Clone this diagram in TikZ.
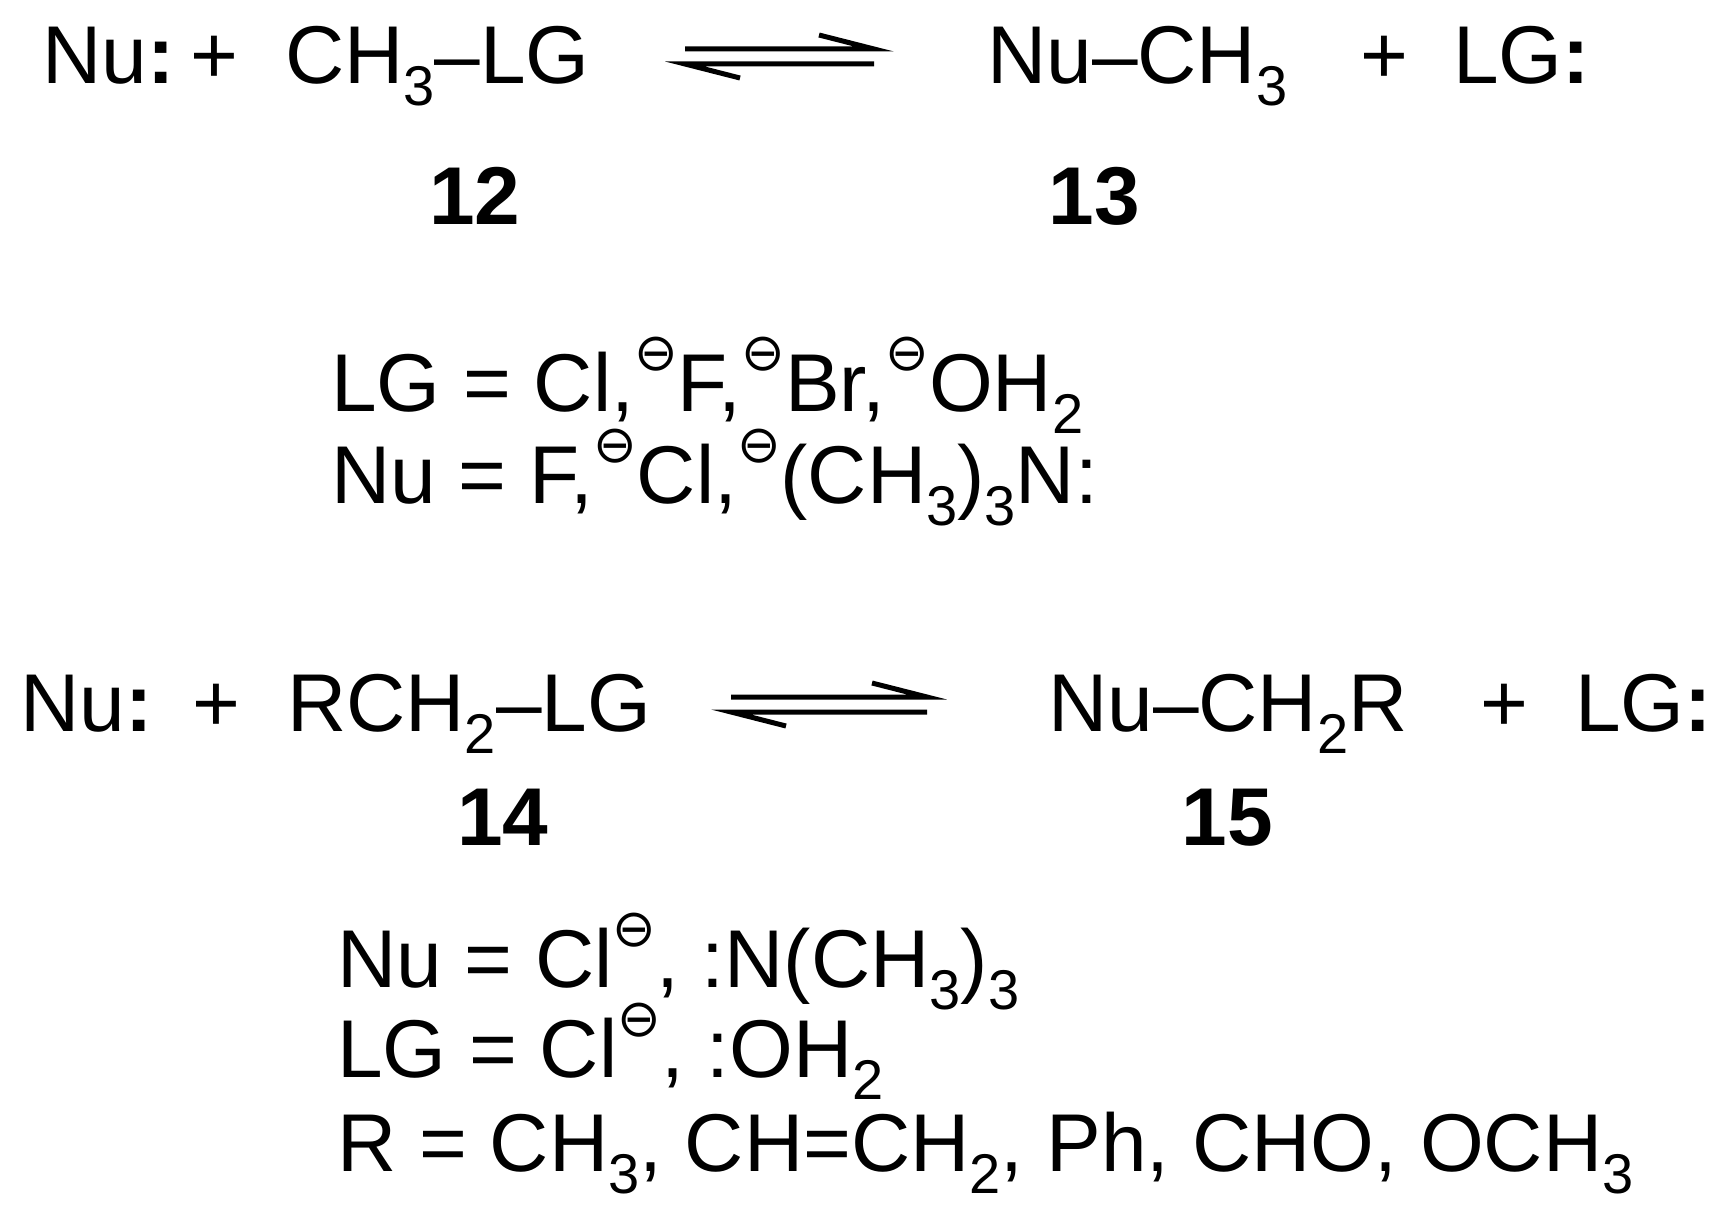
\documentclass[tikz,border=0pt]{standalone}
\usepackage{fontspec}
\setmainfont{Liberation Sans}
\newfontfamily\dv{DejaVu Sans}
\newcommand{\sbs}[1]{\raisebox{-0.28em}{\fontsize{56}{56}\selectfont #1}}
\newcommand{\chg}{\raisebox{0.5em}{\fontsize{52}{52}\selectfont\dv ⊖}}
\begin{document}
\begin{tikzpicture}[x=1pt,y=-1pt,
  t/.style={anchor=base west,inner sep=0pt,font=\fontsize{82}{90}\selectfont},
  lbl/.style={anchor=base,inner sep=0pt,font=\fontsize{82}{90}\selectfont\bfseries},
  ar/.style={line width=5pt}]
\useasboundingbox (0,0) rectangle (1724,1215);
% row 1
\node[t] (nu1) at (42,83) {Nu\textbf{:}};
\node[t] (p1) at (190,83) {+};
\node[t] (r1) at (285,83) {CH\sbs{3}–LG};
\node[t] (pr1) at (987,83) {Nu–CH\sbs{3}};
\node[t] (p2) at (1360,83) {+};
\node[t] (lg1) at (1453,83) {LG\textbf{:}};
\coordinate (a1l) at (685,49); \coordinate (a1r) at (874,49);
\coordinate (b1l) at (685,64); \coordinate (b1r) at (874,64);
\draw[ar] (a1l) -- (a1r) -- ++(-55,-14);
\draw[ar] (b1r) -- (b1l) -- ++(55,14);
\node[lbl] (n12) at (475,224) {12};
\node[lbl] (n13) at (1094,224) {13};
\node[t] (lgl) at (331,411) {LG = Cl,\chg F,\chg Br,\chg OH\sbs{2}};
\node[t] (nul) at (331,503) {Nu = F,\chg Cl,\chg (CH\sbs{3})\sbs{3}N:};
% row 2
\node[t] (nu2) at (20,731) {Nu\textbf{:}};
\node[t] (p3) at (192,731) {+};
\node[t] (r2) at (287,731) {RCH\sbs{2}–LG};
\node[t] (pr2) at (1048,731) {Nu–CH\sbs{2}R};
\node[t] (p4) at (1480,731) {+};
\node[t] (lg2) at (1575,731) {LG\textbf{:}};
\coordinate (a2l) at (731,697); \coordinate (a2r) at (927,697);
\coordinate (b2l) at (731,712); \coordinate (b2r) at (927,712);
\draw[ar] (a2l) -- (a2r) -- ++(-55,-14);
\draw[ar] (b2r) -- (b2l) -- ++(55,14);
\node[lbl] (n14) at (503,845) {14};
\node[lbl] (n15) at (1227,845) {15};
\node[t] (l1) at (337,987) {Nu = Cl\chg, :N(CH\sbs{3})\sbs{3}};
\node[t] (l2) at (337,1077) {LG = Cl\chg, :OH\sbs{2}};
\node[t] (l3) at (337,1171) {R = CH\sbs{3}, CH=CH\sbs{2}, Ph, CHO, OCH\sbs{3}};
\end{tikzpicture}
\end{document}
